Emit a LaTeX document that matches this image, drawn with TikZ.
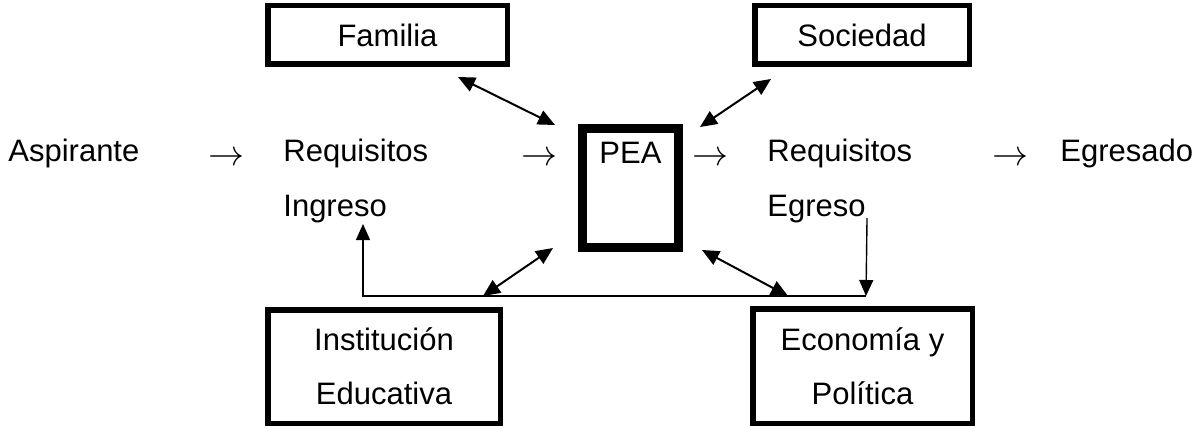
\documentclass[tikz,border=0pt]{standalone}
\usepackage{fontspec}
\setmainfont{Liberation Sans}
\usetikzlibrary{arrows.meta}

\begin{document}
\begin{tikzpicture}[x=0.5pt,y=-0.5pt,
  every node/.style={font=\fontsize{15.5}{27}\selectfont},
  word/.style={anchor=base west,inner sep=0pt},
  frame/.style={draw,line width=2.75pt,align=center,inner sep=0pt},
  dblarrow/.style={{Triangle[length=8.5pt,width=7.5pt]}-{Triangle[length=8.5pt,width=7.5pt]},line width=1pt},
  onearrow/.style={-{Triangle[length=8pt,width=7pt]},line width=0.7pt}]
\useasboundingbox (0,0) rectangle (1197,427);

% fila principal
\node[word] (asp) at (8,162) {Aspirante};
\node[word] (r1) at (208,166) {\scalebox{1.25}{$\rightarrow$}};
\node[word] (reqi) at (283,162) {Requisitos};
\node[word] (ing) at (283,216) {Ingreso};
\node[word] (r2) at (521,166) {\scalebox{1.25}{$\rightarrow$}};
\node[word] (r3) at (692,166) {\scalebox{1.25}{$\rightarrow$}};
\node[word] (reqe) at (767,162) {Requisitos};
\node[word] (egr) at (767,216) {Egreso};
\node[word] (r4) at (992,166) {\scalebox{1.25}{$\rightarrow$}};
\node[word] (egd) at (1060,162) {Egresado};

% cajas
\node[frame,minimum width=119.75pt,minimum height=29.25pt] (fam) at (387.5,35) {Familia};
\node[frame,minimum width=107.25pt,minimum height=29.25pt] (soc) at (862,35) {Sociedad};
\node[draw,line width=4.5pt,minimum width=48pt,minimum height=59.5pt,
  label={[anchor=north,yshift=-5.5pt]north:PEA}] (pea) at (630.5,188) {};
\node[frame,minimum width=116.25pt,minimum height=56.75pt] (inst) at (384,366.5) {Institución\\Educativa};
\node[frame,minimum width=109.75pt,minimum height=57.25pt] (eco) at (862.5,366) {Economía y\\Política};

\draw[dblarrow] ([shift={(-52,10)}]fam.south east) -- ([shift={(-23,1)}]pea.north west);
\draw[dblarrow] ([shift={(19,12)}]soc.south west) -- ([shift={(17,3)}]pea.north east);
\draw[dblarrow] ([shift={(-20,-11)}]inst.north east) -- ([shift={(-25,-4)}]pea.south west);
\draw[dblarrow] ([shift={(19,-2)}]pea.south east) -- ([shift={(38,-10)}]eco.north west);

% retroalimentacion
\coordinate (loopR) at (866,296);
\coordinate (loopL) at (363,296);
\coordinate (ingTip) at (363,224);
\draw[onearrow] ([shift={(1,2)}]egr.base east) -- (loopR);
\draw[onearrow] (loopR) -- (loopL) -- (ingTip);
\end{tikzpicture}
\end{document}
